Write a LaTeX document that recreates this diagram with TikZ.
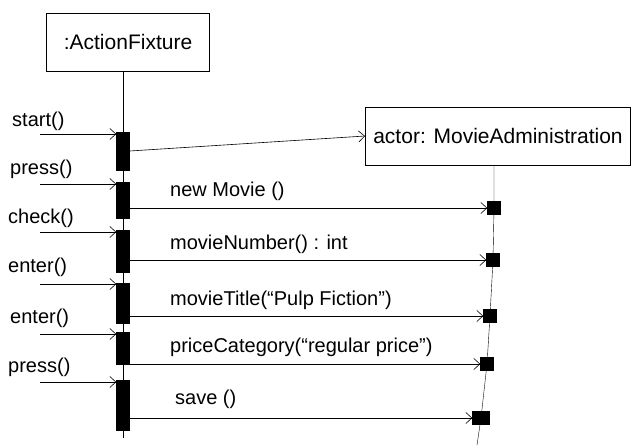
\documentclass[tikz,border=0pt]{standalone}
\usepackage{fontspec}
\setmainfont{Liberation Sans}
\usetikzlibrary{positioning,arrows.meta}

\begin{document}
\begin{tikzpicture}[x=1pt,y=-1pt,
  obj/.style={draw,thick,minimum width=#1,minimum height=58pt,font=\fontsize{21}{24}\selectfont},
  act/.style={draw,fill=black,minimum width=13pt,minimum height=#1,inner sep=0pt},
  ract/.style={draw,fill=black,minimum width=13pt,minimum height=13pt,inner sep=0pt},
  msg/.style={-{Straight Barb[length=6pt,width=11pt]},semithick},
  lbl/.style={anchor=base west,inner sep=0pt,font=\fontsize{20}{23}\selectfont}]
  \useasboundingbox (0,0) rectangle (639,445);
  % objects
  \node[obj=163pt] (fix) at (128,42) {:ActionFixture};
  \node[obj=265pt] (mov) at (498,136) {actor: MovieAdministration};
  % activations of the fixture
  \node[act=38pt] (a1) at (123,151) {};
  \node[act=36pt] (a2) at (123,200) {};
  \node[act=42pt] (a3) at (123,251) {};
  \node[act=40pt] (a4) at (123,303) {};
  \node[act=32pt] (a5) at (123,348) {};
  \node[act=50pt] (a6) at (123,405) {};
  % activations of the administration
  \node[ract] (r1) at (494,208) {};
  \node[ract] (r2) at (493,260) {};
  \node[ract] (r3) at (490,316) {};
  \node[ract] (r4) at (487,364) {};
  \node[ract,minimum width=17pt] (r5) at (481,418) {};
  % lifelines
  \coordinate (endL) at (123,438);
  \coordinate (endR) at (477,445);
  \draw[semithick] (fix.south -| a1.north) -- (endL);
  \draw (mov.south -| r1.north) -- (r1) -- (r2) -- (r3) -- (r4) -- (r5) -- (endR);
  % incoming calls
  \coordinate (in1) at (40,134);
  \coordinate (in2) at (40,184);
  \coordinate (in3) at (40,232);
  \coordinate (in4) at (40,284);
  \coordinate (in5) at (40,334);
  \coordinate (in6) at (40,382);
  \draw[msg] (in1) -- (in1 -| a1.west);
  \draw[msg] (in2) -- (in2 -| a2.west);
  \draw[msg] (in3) -- (in3 -| a3.west);
  \draw[msg] (in4) -- (in4 -| a4.west);
  \draw[msg] (in5) -- (in5 -| a5.west);
  \draw[msg] (in6) -- (in6 -| a6.west);
  \node[lbl] (l1) at (12,126) {start()};
  \node[lbl] (l2) at (10,174) {press()};
  \node[lbl] (l3) at (8,223) {check()};
  \node[lbl] (l4) at (8,272) {enter()};
  \node[lbl] (l5) at (10,323) {enter()};
  \node[lbl] (l6) at (8,372) {press()};
  % messages
  \draw[msg] (a1.east) -- (mov.west);
  \draw[msg] (r1.west -| a2.east) -- (r1.west);
  \draw[msg] (r2.west -| a3.east) -- (r2.west);
  \draw[msg] (r3.west -| a4.east) -- (r3.west);
  \draw[msg] (r4.west -| a5.east) -- (r4.west);
  \draw[msg] (r5.west -| a6.east) -- (r5.west);
  \node[lbl] (m1) at (170,196) {new Movie ()};
  \node[lbl] (m2) at (170,249) {movieNumber() : int};
  \node[lbl] (m3) at (170,305) {movieTitle(``Pulp Fiction'')};
  \node[lbl] (m4) at (170,352) {priceCategory(``regular price'')};
  \node[lbl] (m5) at (175,404) {save ()};
\end{tikzpicture}
\end{document}
